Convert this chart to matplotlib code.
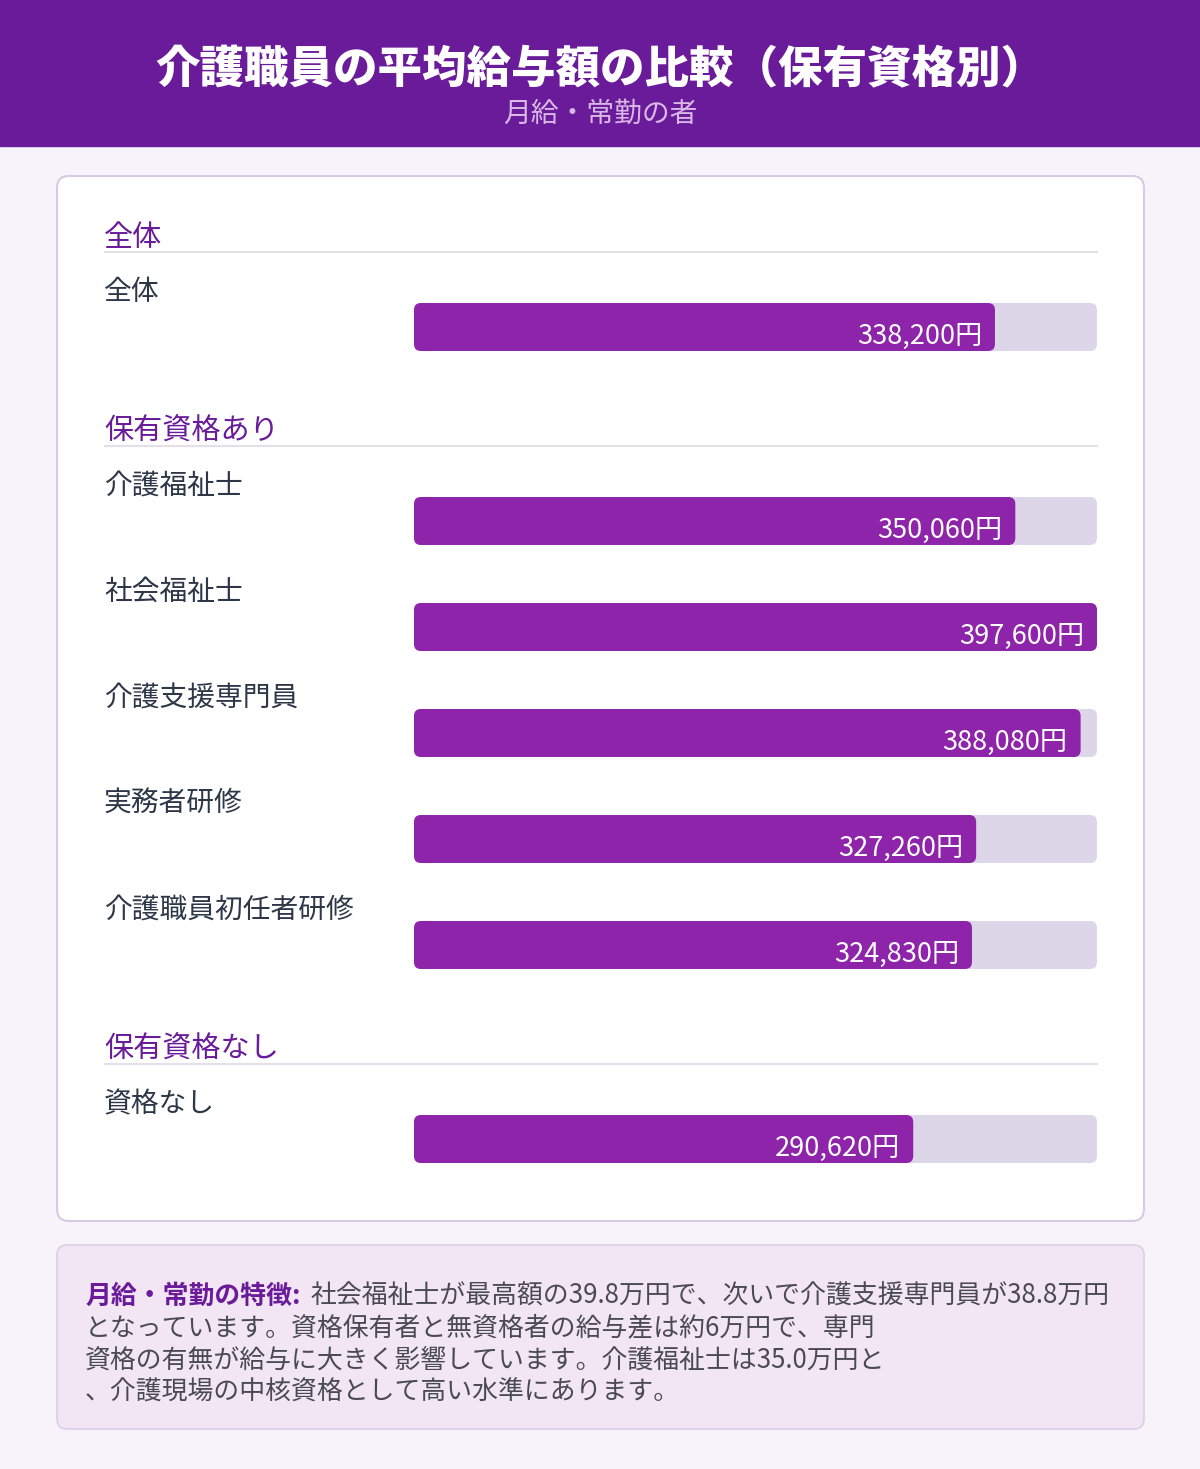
import matplotlib.pyplot as plt
from matplotlib.patches import FancyBboxPatch, Rectangle

plt.rcParams['font.family'] = ['Noto Sans CJK JP', 'DejaVu Sans']

title = '介護職員の平均給与額の比較（保有資格別）'
subtitle = '月給・常勤の者'
sections = ['全体', '保有資格あり', '保有資格なし']
section_items = [
    ['全体'],
    ['介護福祉士', '社会福祉士', '介護支援専門員', '実務者研修', '介護職員初任者研修'],
    ['資格なし'],
]
section_values = [
    [338200],
    [350060, 397600, 388080, 327260, 324830],
    [290620],
]
note_head = '月給・常勤の特徴:'
note_lines = [
    '社会福祉士が最高額の39.8万円で、次いで介護支援専門員が38.8万円',
    'となっています。資格保有者と無資格者の給与差は約6万円で、専門',
    '資格の有無が給与に大きく影響しています。介護福祉士は35.0万円と',
    '、介護現場の中核資格として高い水準にあります。',
]

W, H = 1200, 1469
PURPLE = '#6A1B9A'
BAR = '#8E24AA'
TRACK = '#DDD6E8'
BG = '#F8F3FA'

fig = plt.figure(figsize=(W / 100, H / 100), dpi=100)
fig.patch.set_facecolor(BG)

bg = fig.add_axes([0, 0, 1, 1])
bg.set_xlim(0, W)
bg.set_ylim(H, 0)
bg.axis('off')

# header
bg.add_patch(Rectangle((0, 0), W, 146, color=PURPLE, zorder=1))
bg.text(W / 2, 70, title, ha='center', va='center', color='white',
        fontsize=32, fontweight='heavy', zorder=2)
bg.text(W / 2, 114, subtitle, ha='center', va='center', color='#D9B8E6',
        fontsize=20, zorder=2)

# card
bg.add_patch(FancyBboxPatch((57, 176), 1087, 1045,
                            boxstyle='round,pad=0,rounding_size=12',
                            fc='white', ec='#D5CBE3', lw=1.5, zorder=1))

# bar axes: x in salary units over the track, y in pixels
track_x0, track_x1 = 414, 1097
vmax = max(max(v) for v in section_values)
bx = fig.add_axes([track_x0 / W, 0, (track_x1 - track_x0) / W, 1])
bx.set_xlim(0, vmax)
bx.set_ylim(H, 0)
bx.axis('off')
bx.patch.set_alpha(0)
upx = vmax / (track_x1 - track_x0)  # salary units per pixel
bar_h = 48

y = 236
for si, (sec, items, vals) in enumerate(zip(sections, section_items, section_values)):
    bg.text(104, y + 2, sec, ha='left', va='center', color=PURPLE, fontsize=21, zorder=3)
    bg.plot([105, 1097], [y + 16, y + 16], color='#E3E0E8', lw=1.5, zorder=2)
    y_label = y + 54
    for name, v in zip(items, vals):
        bg.text(104, y_label + 2, name, ha='left', va='center', color='#2D3748',
                fontsize=20, zorder=3)
        top = y_label + 13
        bx.add_patch(FancyBboxPatch((0, top), vmax, bar_h,
                                    boxstyle='round,pad=0,rounding_size=%f' % (7 * upx),
                                    mutation_aspect=1 / upx,
                                    fc=TRACK, ec='none', zorder=2))
        bx.add_patch(FancyBboxPatch((0, top), v, bar_h,
                                    boxstyle='round,pad=0,rounding_size=%f' % (7 * upx),
                                    mutation_aspect=1 / upx,
                                    fc=BAR, ec='none', zorder=3))
        bx.text(v - 13 * upx, top + bar_h / 2 + 9, f'{v:,}円', ha='right', va='center',
                color='white', fontsize=19.5, zorder=4)
        last_bottom = top + bar_h
        y_label = last_bottom + 45
    y = last_bottom + 79

# note box
bg.add_patch(FancyBboxPatch((57, 1245), 1087, 184,
                            boxstyle='round,pad=0,rounding_size=10',
                            fc='#F2E5F4', ec='#DCCFE6', lw=1.2, zorder=1))
fs = 18.6
head = bg.text(85, 1296, note_head, ha='left', va='center', color=PURPLE,
               fontsize=fs, fontweight='bold', zorder=3)
fig.canvas.draw()
ext = head.get_window_extent()
x_end = bg.transData.inverted().transform((ext.x1, ext.y0))[0]
bg.text(x_end + 10, 1296, note_lines[0], ha='left', va='center', color='#4A4A55',
        fontsize=fs, zorder=3)
for i, line in enumerate(note_lines[1:]):
    bg.text(85, 1328 + 32 * i, line, ha='left', va='center', color='#4A4A55',
            fontsize=fs, zorder=3)

fig.savefig('out.png', dpi=100, facecolor=BG)
